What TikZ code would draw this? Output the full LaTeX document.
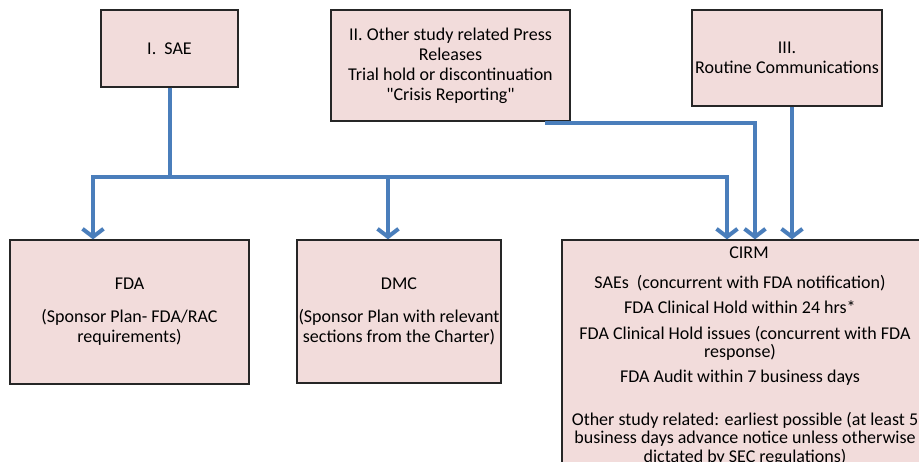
\documentclass[tikz,border=0pt]{standalone}
\usepackage{fontspec}
\setmainfont{Carlito}[Ligatures=TeXOff]
\usetikzlibrary{arrows.meta}
\definecolor{boxfill}{HTML}{F2DCDB}
\definecolor{linkblue}{HTML}{4A7EBB}
\definecolor{boxline}{HTML}{262626}
\begin{document}
\begin{tikzpicture}[x=1pt,y=-1pt,
  box/.style={draw=boxline,line width=1.3pt,fill=boxfill,align=center,inner sep=0pt,font=\fontsize{18}{20}\selectfont},
  txt/.style={font=\fontsize{18}{20}\selectfont,inner sep=0pt,anchor=base},
  link/.style={draw=linkblue,line width=4pt},
  arr/.style={link,-{Straight Barb[length=8pt,width=21pt]}}]
\useasboundingbox (0,0) rectangle (919,461);
\clip (0,0) rectangle (919,461);
\fill[white] (0,0) rectangle (919,461);
% boxes
\node[box,minimum width=137pt,minimum height=77pt] (sae) at (169.5,48.5) {I.~~SAE};
\node[box,minimum width=239pt,minimum height=111pt] (two) at (450.5,65.5) {II. Other study related Press\\Releases\\Trial hold or discontinuation\\"Crisis Reporting"};
\node[box,minimum width=190pt,minimum height=96pt] (three) at (787,58) {III.\\Routine Communications};
\node[box,minimum width=239pt,minimum height=144pt] (fda) at (129.5,312) {FDA\\[13pt](Sponsor Plan- FDA/RAC\\requirements)};
\node[box,minimum width=204pt,minimum height=143pt] (dmc) at (399,311.5) {DMC\\[13pt](Sponsor Plan with relevant\\sections from the Charter)};
\node[box,minimum width=370pt,minimum height=240pt] (cirm) at (747,360) {};
% CIRM text
\node[txt] (c1) at (749,258) {CIRM};
\node[txt] (c2) at (740,288) {SAEs~~(concurrent with FDA notification)};
\node[txt] (c3) at (740,313) {FDA Clinical Hold within 24 hrs*};
\node[txt] (c4) at (745,339) {FDA Clinical Hold issues (concurrent with FDA};
\node[txt] (c5) at (740,357) {response)};
\node[txt] (c6) at (740,382) {FDA Audit within 7 business days};
\node[txt] (c7) at (745,425) {Other study related: earliest possible (at least 5};
\node[txt] (c8) at (745,443) {business days advance notice unless otherwise};
\node[txt] (c9) at (745,462) {dictated by SEC regulations)};
% connectors
\coordinate (hL) at (93,177);
\coordinate (hM) at (388,177);
\coordinate (hR) at (727,177);
\draw[arr] (sae.south) |- (hL) -- (hL |- fda.north);
\draw[arr] (sae.south) |- (hM) -- (hM |- dmc.north);
\draw[arr] (sae.south) |- (hR) -- (hR |- cirm.north);
\coordinate (p2) at (545,123);
\coordinate (p2r) at (755,123);
\draw[arr] (p2) -- (p2r) -- (p2r |- cirm.north);
\coordinate (p3) at (792,200);
\draw[arr] (three.south -| p3) -- (cirm.north -| p3);
\end{tikzpicture}
\end{document}
